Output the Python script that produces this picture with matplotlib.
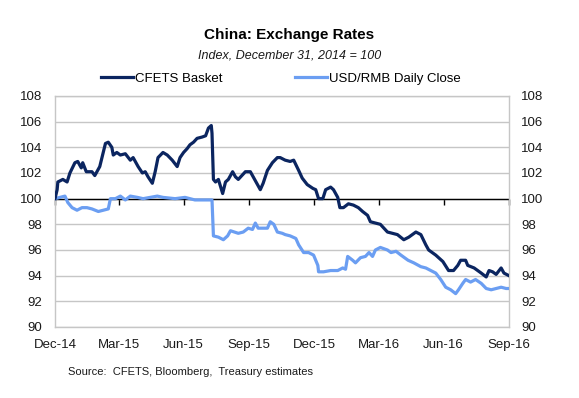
import matplotlib
matplotlib.use("Agg")
import matplotlib.pyplot as plt
from matplotlib import font_manager
import pandas as pd

# fuente estrecha parecida a Arial Narrow si existe
nombres = {f.name for f in font_manager.fontManager.ttflist}
fuente = "Liberation Sans Narrow" if "Liberation Sans Narrow" in nombres else "Liberation Sans"
plt.rcParams["font.family"] = [fuente, "DejaVu Sans"]

# CFETS Basket (indice, 31 dic 2014 = 100)
cfets_fechas = [
    "2014-12-31", "2015-01-03", "2015-01-04", "2015-01-11", "2015-01-17", "2015-01-21",
    "2015-01-28", "2015-02-01", "2015-02-06", "2015-02-08", "2015-02-13", "2015-02-21",
    "2015-02-25", "2015-03-04", "2015-03-12", "2015-03-16", "2015-03-21", "2015-03-23",
    "2015-03-28", "2015-04-02", "2015-04-09", "2015-04-16", "2015-04-20", "2015-04-27",
    "2015-05-03", "2015-05-07", "2015-05-11", "2015-05-17", "2015-05-21", "2015-05-25",
    "2015-06-01", "2015-06-07", "2015-06-14", "2015-06-21", "2015-06-25", "2015-06-30",
    "2015-07-05", "2015-07-09", "2015-07-14", "2015-07-19", "2015-07-26", "2015-07-31",
    "2015-08-04", "2015-08-08", "2015-08-09", "2015-08-11", "2015-08-14", "2015-08-18",
    "2015-08-24", "2015-08-28", "2015-09-01", "2015-09-07", "2015-09-11", "2015-09-15",
    "2015-09-25", "2015-10-02", "2015-10-06", "2015-10-12", "2015-10-16", "2015-10-20",
    "2015-10-26", "2015-11-02", "2015-11-09", "2015-11-13", "2015-11-20", "2015-11-27",
    "2015-12-02", "2015-12-09", "2015-12-14", "2015-12-21", "2015-12-29", "2016-01-02",
    "2016-01-06", "2016-01-12", "2016-01-16", "2016-01-23", "2016-01-27", "2016-02-02",
    "2016-02-05", "2016-02-10", "2016-02-17", "2016-02-24", "2016-03-02", "2016-03-08",
    "2016-03-15", "2016-03-19", "2016-03-26", "2016-04-02", "2016-04-07", "2016-04-12",
    "2016-04-19", "2016-04-26", "2016-05-05", "2016-05-12", "2016-05-22", "2016-05-29",
    "2016-06-05", "2016-06-09", "2016-06-19", "2016-06-29", "2016-07-07", "2016-07-14",
    "2016-07-20", "2016-07-24", "2016-07-31", "2016-08-03", "2016-08-12", "2016-08-22",
    "2016-08-29", "2016-09-02", "2016-09-07", "2016-09-12", "2016-09-19", "2016-09-23",
    "2016-09-30",
]
cfets_valores = [
    100.0, 100.7, 101.3, 101.5, 101.3, 102.0,
    102.8, 102.9, 102.4, 102.8, 102.1, 102.1,
    101.8, 102.5, 104.3, 104.4, 104.0, 103.4,
    103.6, 103.4, 103.5, 103.0, 103.2, 102.5,
    102.0, 102.1, 101.7, 101.2, 102.1, 103.2,
    103.6, 103.4, 103.0, 102.5, 103.2, 103.6,
    103.9, 104.2, 104.4, 104.7, 104.8, 104.9,
    105.5, 105.7, 105.1, 101.5, 101.3, 101.5,
    100.4, 101.3, 101.5, 102.1, 101.7, 101.5,
    102.1, 102.1, 101.7, 101.1, 100.7, 101.2,
    102.2, 102.8, 103.2, 103.2, 103.0, 102.9,
    103.0, 102.2, 101.6, 101.1, 100.8, 100.7,
    100.0, 100.0, 100.7, 100.9, 100.7, 100.1,
    99.3, 99.3, 99.6, 99.5, 99.3, 99.0,
    98.7, 98.2, 98.1, 98.0, 97.7, 97.4,
    97.3, 97.2, 96.8, 97.0, 97.4, 97.2,
    96.4, 96.0, 95.6, 95.1, 94.4, 94.4,
    94.8, 95.2, 95.2, 94.8, 94.6, 94.2,
    93.9, 94.4, 94.3, 94.1, 94.6, 94.2,
    94.0,
]

# USD/RMB cierre diario (indice)
usd_fechas = [
    "2014-12-31", "2015-01-07", "2015-01-14", "2015-01-18", "2015-01-24", "2015-01-31",
    "2015-02-07", "2015-02-14", "2015-02-21", "2015-03-02", "2015-03-09", "2015-03-16",
    "2015-03-19", "2015-03-26", "2015-04-02", "2015-04-09", "2015-04-16", "2015-04-26",
    "2015-05-04", "2015-05-14", "2015-05-24", "2015-06-01", "2015-06-18", "2015-07-02",
    "2015-07-16", "2015-08-04", "2015-08-09", "2015-08-11", "2015-08-18", "2015-08-25",
    "2015-08-31", "2015-09-04", "2015-09-15", "2015-09-22", "2015-09-29", "2015-10-05",
    "2015-10-09", "2015-10-13", "2015-10-26", "2015-10-30", "2015-11-04", "2015-11-09",
    "2015-11-16", "2015-11-20", "2015-11-27", "2015-12-05", "2015-12-09", "2015-12-16",
    "2015-12-23", "2015-12-30", "2016-01-05", "2016-01-06", "2016-01-13", "2016-01-23",
    "2016-02-02", "2016-02-09", "2016-02-13", "2016-02-16", "2016-02-23", "2016-02-27",
    "2016-03-05", "2016-03-12", "2016-03-17", "2016-03-22", "2016-03-26", "2016-04-02",
    "2016-04-12", "2016-04-17", "2016-04-24", "2016-05-01", "2016-05-11", "2016-05-19",
    "2016-05-29", "2016-06-05", "2016-06-12", "2016-06-19", "2016-06-26", "2016-07-03",
    "2016-07-10", "2016-07-17", "2016-07-21", "2016-07-27", "2016-07-31", "2016-08-07",
    "2016-08-14", "2016-08-22", "2016-08-29", "2016-09-05", "2016-09-12", "2016-09-19",
    "2016-09-26", "2016-09-30",
]
usd_valores = [
    100.0, 100.1, 100.2, 99.7, 99.3, 99.1,
    99.3, 99.3, 99.2, 99.0, 99.1, 99.2,
    100.0, 100.0, 100.2, 99.9, 100.2, 100.1,
    100.0, 100.1, 100.2, 100.1, 100.0, 100.1,
    99.9, 99.9, 99.9, 97.1, 97.0, 96.8,
    97.1, 97.5, 97.3, 97.4, 97.7, 97.6,
    98.1, 97.7, 97.7, 98.2, 98.0, 97.4,
    97.3, 97.2, 97.1, 96.9, 96.4, 95.8,
    95.8, 95.6, 94.8, 94.3, 94.3, 94.4,
    94.4, 94.6, 94.5, 95.5, 95.2, 95.0,
    95.4, 95.5, 95.8, 95.5, 96.0, 96.2,
    96.0, 95.8, 95.9, 95.6, 95.2, 95.0,
    94.7, 94.6, 94.4, 94.2, 93.7, 93.1,
    92.9, 92.6, 92.9, 93.4, 93.7, 93.5,
    93.7, 93.4, 93.0, 92.9, 93.0, 93.1,
    93.0, 93.0,
]

ticks_fechas = ["2014-12-31", "2015-03-31", "2015-06-30", "2015-09-30",
                "2015-12-31", "2016-03-31", "2016-06-30", "2016-09-30"]
ticks_etiquetas = ["Dec-14", "Mar-15", "Jun-15", "Sep-15",
                   "Dec-15", "Mar-16", "Jun-16", "Sep-16"]
y_ticks = list(range(90, 110, 2))

azul_oscuro = "#0b2560"
azul_claro = "#6b9ef2"
gris = "#c6c6c6"

fig = plt.figure(figsize=(5.79, 3.98), dpi=100)
ax = fig.add_axes([0.095, 0.1784, 0.784, 0.5804])

ax.plot(pd.to_datetime(cfets_fechas), cfets_valores, color=azul_oscuro, lw=2.3,
        label="CFETS Basket", zorder=4, solid_joinstyle="round")
ax.plot(pd.to_datetime(usd_fechas), usd_valores, color=azul_claro, lw=2.3,
        label="USD/RMB Daily Close", zorder=3, solid_joinstyle="round")

x_ticks = pd.to_datetime(ticks_fechas)
ax.set_xlim(x_ticks[0], x_ticks[-1])
ax.set_ylim(90, 108)
ax.set_yticks(y_ticks)
ax.set_xticks(x_ticks)
ax.set_xticklabels(ticks_etiquetas)
ax.grid(axis="y", color=gris, lw=1)
ax.set_axisbelow(True)

for lado in ax.spines.values():
    lado.set_color(gris)
    lado.set_linewidth(1)

ax.tick_params(axis="x", length=0, pad=9, labelsize=9.5, colors="#1a1a1a")
ax.tick_params(axis="y", length=0, pad=9, labelsize=9.5, colors="#1a1a1a",
               labelright=True)

# linea negra en 100 (eje x cruza ahi) con marcas hacia abajo
ax.axhline(100, color="black", lw=1, zorder=2)
eje100 = ax.secondary_xaxis((100 - 90) / 18)
eje100.xaxis.set_ticks_position("bottom")
eje100.set_xticks(x_ticks)
eje100.set_xticklabels([])
eje100.tick_params(direction="out", length=4, width=1, color="black",
                   labelbottom=False, labeltop=False)
for lado in eje100.spines.values():
    lado.set_visible(False)

fig.text(0.5, 1 - 35 / 398, "China: Exchange Rates", ha="center", va="center",
         fontsize=11, fontweight="bold", color="black")
fig.text(0.5, 1 - 55 / 398, "Index, December 31, 2014 = 100", ha="center", va="center",
         fontsize=9, style="italic", color="#1a1a1a")

fig.legend(loc="center", bbox_to_anchor=(0.485, 1 - 79 / 398), ncol=2, frameon=False,
           fontsize=9.5, handlelength=2.4, handletextpad=0.15, columnspacing=5.5)

fig.text(68 / 579, 1 - 372 / 398, "Source:  CFETS, Bloomberg,  Treasury estimates",
         ha="left", va="center", fontsize=8, color="#1a1a1a")

fig.savefig("out.png", dpi=100)
